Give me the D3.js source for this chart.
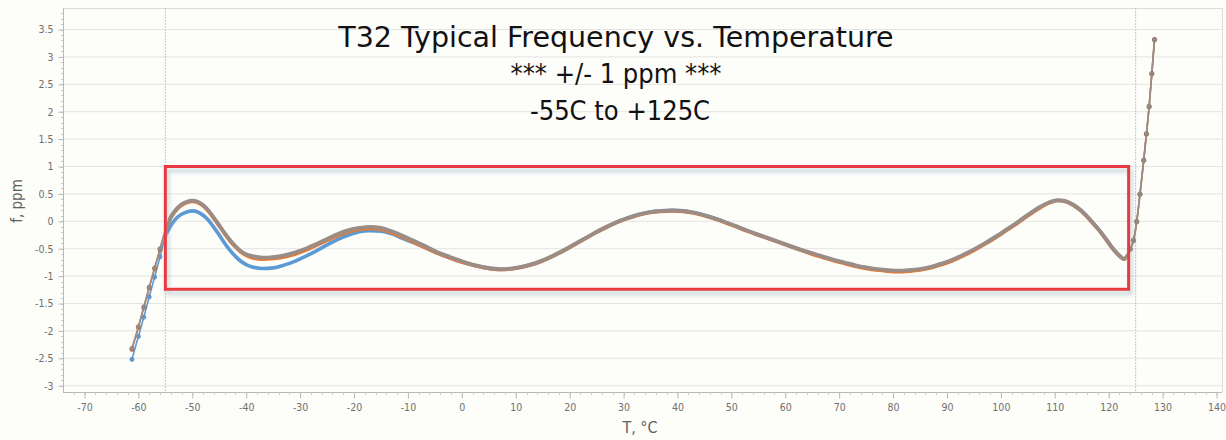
<!DOCTYPE html>
<html>
<head>
<meta charset="utf-8">
<script src="https://cdn.jsdelivr.net/npm/d3@7/dist/d3.min.js"></script>
<style>
  html, body { margin: 0; padding: 0; background: #fdfdfa; }
  svg { display: block; }
</style>
</head>
<body>
<svg id="chart" width="1226" height="440"></svg>
<script>
// ---------------- DATA ----------------
const titleLines = ["T32 Typical Frequency vs. Temperature", "*** +/- 1 ppm ***", "-55C to +125C"];
const xLabel = "T, \u00B0C";
const yLabel = "f, ppm";
const xTicks = [-70, -60, -50, -40, -30, -20, -10, 0, 10, 20, 30, 40, 50, 60, 70, 80, 90, 100, 110, 120, 130, 140];
const yTicks = [-3, -2.5, -2, -1.5, -1, -0.5, 0, 0.5, 1, 1.5, 2, 2.5, 3, 3.5];
const refLinesT = [-55, 125];
const boxT = [-55, 123.7];
const boxF = [-1.24, 1.0];

const tempC = [
  -61.2, -60, -59, -58, -57, -56, -55,
  -54, -53, -52, -51, -50, -49, -48, -47, -46, -45, -44, -43, -42, -41, -40, -39,
  -37, -35, -33, -31, -29, -27, -25, -23, -21, -19, -17, -15, -13, -11, -9, -7, -5, -3, -1,
  1, 3, 5, 7, 9, 11, 13, 15, 17, 19, 21, 23, 25, 27, 29, 31, 33, 35, 37, 39, 41, 43, 45, 47, 49,
  51, 53, 55, 57, 59, 61, 63, 65, 67, 69, 71, 73, 75, 77, 79, 81, 83, 85, 87, 89, 91, 93, 95, 97, 99,
  101, 103, 105, 107, 109,
  110.5, 112, 113.5, 115, 116.5, 118, 119.5, 121,
  122, 122.8, 123.5, 124, 124.6, 125.2, 125.8, 126.5, 127, 127.5, 128, 128.5
];

const fBlue = [
  -2.52, -2.10, -1.75, -1.38, -1.02, -0.65, -0.28,
  -0.08, 0.05, 0.13, 0.17, 0.19, 0.17, 0.11, 0.02, -0.11, -0.25, -0.40, -0.53, -0.64, -0.73, -0.79, -0.83,
  -0.86, -0.85, -0.80, -0.73, -0.64, -0.54, -0.43, -0.33, -0.25, -0.19, -0.17, -0.18, -0.23, -0.31, -0.39, -0.47, -0.56, -0.64, -0.71,
  -0.77, -0.82, -0.86, -0.88, -0.87, -0.84, -0.79, -0.72, -0.63, -0.53, -0.42, -0.31, -0.20, -0.10, -0.01, 0.07, 0.13, 0.17, 0.19, 0.20, 0.19, 0.16, 0.11, 0.05, -0.02,
  -0.10, -0.18, -0.25, -0.32, -0.39, -0.46, -0.53, -0.59, -0.65, -0.71, -0.76, -0.81, -0.85, -0.88, -0.90, -0.91, -0.90, -0.88, -0.84, -0.78, -0.71, -0.62, -0.52, -0.41, -0.29,
  -0.16, -0.03, 0.11, 0.24, 0.34,
  0.38, 0.36, 0.29, 0.18, 0.03, -0.14, -0.33, -0.53,
  -0.63, -0.69, -0.63, -0.51, -0.35, -0.01, 0.49, 1.11, 1.59, 2.09, 2.69, 3.31
];

const fOrange = [
  -2.34, -1.94, -1.58, -1.22, -0.87, -0.52, -0.18,
  0.06, 0.20, 0.29, 0.34, 0.36, 0.34, 0.28, 0.18, 0.05, -0.09, -0.23, -0.36, -0.47, -0.56, -0.62, -0.66,
  -0.69, -0.68, -0.65, -0.60, -0.53, -0.44, -0.35, -0.26, -0.19, -0.15, -0.13, -0.15, -0.21, -0.29, -0.38, -0.47, -0.56, -0.64, -0.71,
  -0.77, -0.82, -0.86, -0.88, -0.87, -0.84, -0.79, -0.72, -0.63, -0.53, -0.42, -0.31, -0.20, -0.10, -0.01, 0.06, 0.12, 0.16, 0.18, 0.19, 0.18, 0.15, 0.10, 0.04, -0.03,
  -0.10, -0.18, -0.25, -0.32, -0.39, -0.46, -0.53, -0.60, -0.66, -0.72, -0.77, -0.82, -0.86, -0.89, -0.91, -0.92, -0.91, -0.89, -0.85, -0.79, -0.72, -0.63, -0.53, -0.42, -0.30,
  -0.17, -0.04, 0.10, 0.23, 0.34,
  0.38, 0.36, 0.29, 0.18, 0.03, -0.14, -0.33, -0.53,
  -0.63, -0.69, -0.63, -0.51, -0.35, -0.01, 0.49, 1.11, 1.59, 2.09, 2.69, 3.31
];

const fGray = [
  -2.32, -1.92, -1.56, -1.20, -0.85, -0.50, -0.16,
  0.08, 0.22, 0.31, 0.36, 0.38, 0.36, 0.30, 0.20, 0.07, -0.07, -0.21, -0.34, -0.45, -0.54, -0.60, -0.63,
  -0.66, -0.65, -0.62, -0.57, -0.50, -0.41, -0.32, -0.23, -0.16, -0.12, -0.10, -0.12, -0.18, -0.26, -0.35, -0.44, -0.54, -0.62, -0.69,
  -0.76, -0.81, -0.85, -0.87, -0.86, -0.83, -0.78, -0.71, -0.62, -0.52, -0.41, -0.30, -0.19, -0.09, 0.00, 0.07, 0.13, 0.17, 0.19, 0.20, 0.19, 0.16, 0.11, 0.05, -0.02,
  -0.09, -0.17, -0.24, -0.31, -0.38, -0.45, -0.52, -0.58, -0.64, -0.70, -0.75, -0.80, -0.84, -0.87, -0.89, -0.90, -0.89, -0.87, -0.83, -0.77, -0.70, -0.61, -0.51, -0.40, -0.28,
  -0.15, -0.02, 0.12, 0.25, 0.35,
  0.39, 0.37, 0.30, 0.19, 0.04, -0.13, -0.32, -0.52,
  -0.62, -0.68, -0.62, -0.50, -0.34, 0.00, 0.50, 1.12, 1.60, 2.10, 2.70, 3.32
];

const seriesColors = ["#5b9bd5", "#e07b39", "#9a8c86"];

// ---------------- CHART ----------------
const W = 1226, H = 440;
const frame = { left: 63, right: 1222, top: 8, bottom: 392 };
const svg = d3.select("#chart");

const x = d3.scaleLinear().domain([-70, 140]).range([84.5, 1216.5]);
const y = d3.scaleLinear().domain([-3, 3.5]).range([385.7, 29.5]);

svg.append("rect").attr("x", 0).attr("y", 0).attr("width", W).attr("height", H).attr("fill", "#fdfdfa");

const defs = svg.append("defs");
// clip for dense (thick) part of the curves
defs.append("clipPath").attr("id", "denseClip").append("rect")
  .attr("x", x(-54.6)).attr("y", 0).attr("width", x(123.3) - x(-54.6)).attr("height", H);

// horizontal gridlines
svg.append("g").selectAll("line").data(yTicks).join("line")
  .attr("x1", frame.left).attr("x2", frame.right)
  .attr("y1", d => y(d)).attr("y2", d => y(d))
  .attr("stroke", "#e4e4e2").attr("stroke-width", 1);

// frame top/right
svg.append("line").attr("x1", frame.left).attr("x2", frame.right).attr("y1", frame.top + 0.5).attr("y2", frame.top + 0.5)
  .attr("stroke", "#dcdcda");
svg.append("line").attr("x1", frame.right + 0.5).attr("x2", frame.right + 0.5).attr("y1", frame.top).attr("y2", frame.bottom)
  .attr("stroke", "#dcdcda");

// vertical reference dotted lines
svg.append("g").selectAll("line").data(refLinesT).join("line")
  .attr("x1", d => x(d)).attr("x2", d => x(d))
  .attr("y1", frame.top).attr("y2", frame.bottom)
  .attr("stroke", "#c4c8cc").attr("stroke-width", 1).attr("stroke-dasharray", "2,1");

// axes
const axisColor = "#b8b8b8";
const labelColor = "#707070";
const fontFam = "'DejaVu Sans Condensed', 'DejaVu Sans', sans-serif";

svg.append("line").attr("x1", frame.left + 0.5).attr("x2", frame.left + 0.5).attr("y1", frame.top).attr("y2", frame.bottom)
  .attr("stroke", axisColor);
svg.append("line").attr("x1", frame.left).attr("x2", frame.right).attr("y1", frame.bottom + 0.5).attr("y2", frame.bottom + 0.5)
  .attr("stroke", axisColor);

const yMinor = d3.range(-30, 39).map(d => d / 10).filter(d => y(d) > frame.top && y(d) < frame.bottom);
svg.append("g").selectAll("line").data(yMinor).join("line")
  .attr("x1", frame.left - 2).attr("x2", frame.left)
  .attr("y1", d => Math.round(y(d)) + 0.5).attr("y2", d => Math.round(y(d)) + 0.5)
  .attr("stroke", "#c8c8c8");
const yAxis = d3.axisLeft(y).tickValues(yTicks).tickSize(5).tickPadding(5).tickFormat(d => String(d));
const gy = svg.append("g").attr("transform", `translate(${frame.left + 0.5},0)`).call(yAxis);
gy.select(".domain").remove();
gy.selectAll(".tick line").attr("stroke", axisColor);
gy.selectAll(".tick text").attr("fill", labelColor).style("font-family", fontFam).style("font-size", "10.5px");

const xMinor = d3.range(-72, 142, 2).filter(d => x(d) > frame.left && x(d) < frame.right);
svg.append("g").selectAll("line").data(xMinor).join("line")
  .attr("x1", d => Math.round(x(d)) + 0.5).attr("x2", d => Math.round(x(d)) + 0.5)
  .attr("y1", frame.bottom).attr("y2", frame.bottom + 3)
  .attr("stroke", "#c8c8c8");
const xAxis = d3.axisBottom(x).tickValues(xTicks).tickSize(6).tickPadding(5).tickFormat(d => String(d));
const gx = svg.append("g").attr("transform", `translate(0,${frame.bottom + 0.5})`).call(xAxis);
gx.select(".domain").remove();
gx.selectAll(".tick line").attr("stroke", axisColor);
gx.selectAll(".tick text").attr("fill", labelColor).style("font-family", fontFam).style("font-size", "10.5px");

// axis titles
svg.append("text").text(xLabel).attr("x", 640).attr("y", 433).attr("text-anchor", "middle")
  .attr("fill", "#606060").style("font-family", fontFam).style("font-size", "16px");
svg.append("text").text(yLabel).attr("transform", "translate(22,201) rotate(-90)").attr("text-anchor", "middle")
  .attr("fill", "#606060").style("font-family", fontFam).style("font-size", "15px");

// title
const titleY = [47, 83, 120];
const titleX = [616, 616, 620];
const titleFont = ["'DejaVu Sans', sans-serif", fontFam, fontFam];
const titleSize = ["28.5px", "27px", "27px"];
titleLines.forEach((t, i) => {
  svg.append("text").text(t).attr("x", titleX[i]).attr("y", titleY[i]).attr("text-anchor", "middle")
    .attr("fill", "#111").style("font-family", titleFont[i]).style("font-size", titleSize[i]);
});

// series
const series = [fBlue, fOrange, fGray].map((vals, i) => ({
  color: seriesColors[i],
  pts: tempC.map((t, j) => ({ t, f: vals[j] }))
}));
const line = d3.line().x(d => x(d.t)).y(d => y(d.f)).curve(d3.curveMonotoneX);

series.forEach(s => {
  svg.append("path").datum(s.pts).attr("d", line)
    .attr("fill", "none").attr("stroke", s.color).attr("stroke-width", 1.6)
    .attr("stroke-linejoin", "round");
  svg.append("path").datum(s.pts).attr("d", line).attr("clip-path", "url(#denseClip)")
    .attr("fill", "none").attr("stroke", s.color).attr("stroke-width", 3.6)
    .attr("stroke-linejoin", "round").attr("stroke-linecap", "round");
  svg.append("g").selectAll("circle").data(s.pts.filter(p => p.t < -55 || p.t > 123.6)).join("circle")
    .attr("cx", d => x(d.t)).attr("cy", d => y(d.f)).attr("r", 2.1)
    .attr("fill", s.color).attr("stroke", d3.color(s.color).darker(0.4)).attr("stroke-width", 0.6);
});

// red box with shadow
const f = defs.append("filter").attr("id", "shadow").attr("x", "-5%").attr("y", "-20%").attr("width", "110%").attr("height", "140%");
f.append("feDropShadow").attr("dx", 2).attr("dy", 4).attr("stdDeviation", 2)
  .attr("flood-color", "#6f97a8").attr("flood-opacity", 0.45);
svg.append("rect")
  .attr("x", x(boxT[0])).attr("y", y(boxF[1]))
  .attr("width", x(boxT[1]) - x(boxT[0])).attr("height", y(boxF[0]) - y(boxF[1]))
  .attr("fill", "none").attr("stroke", "#e8383f").attr("stroke-width", 3)
  .attr("filter", "url(#shadow)");
</script>
</body>
</html>
